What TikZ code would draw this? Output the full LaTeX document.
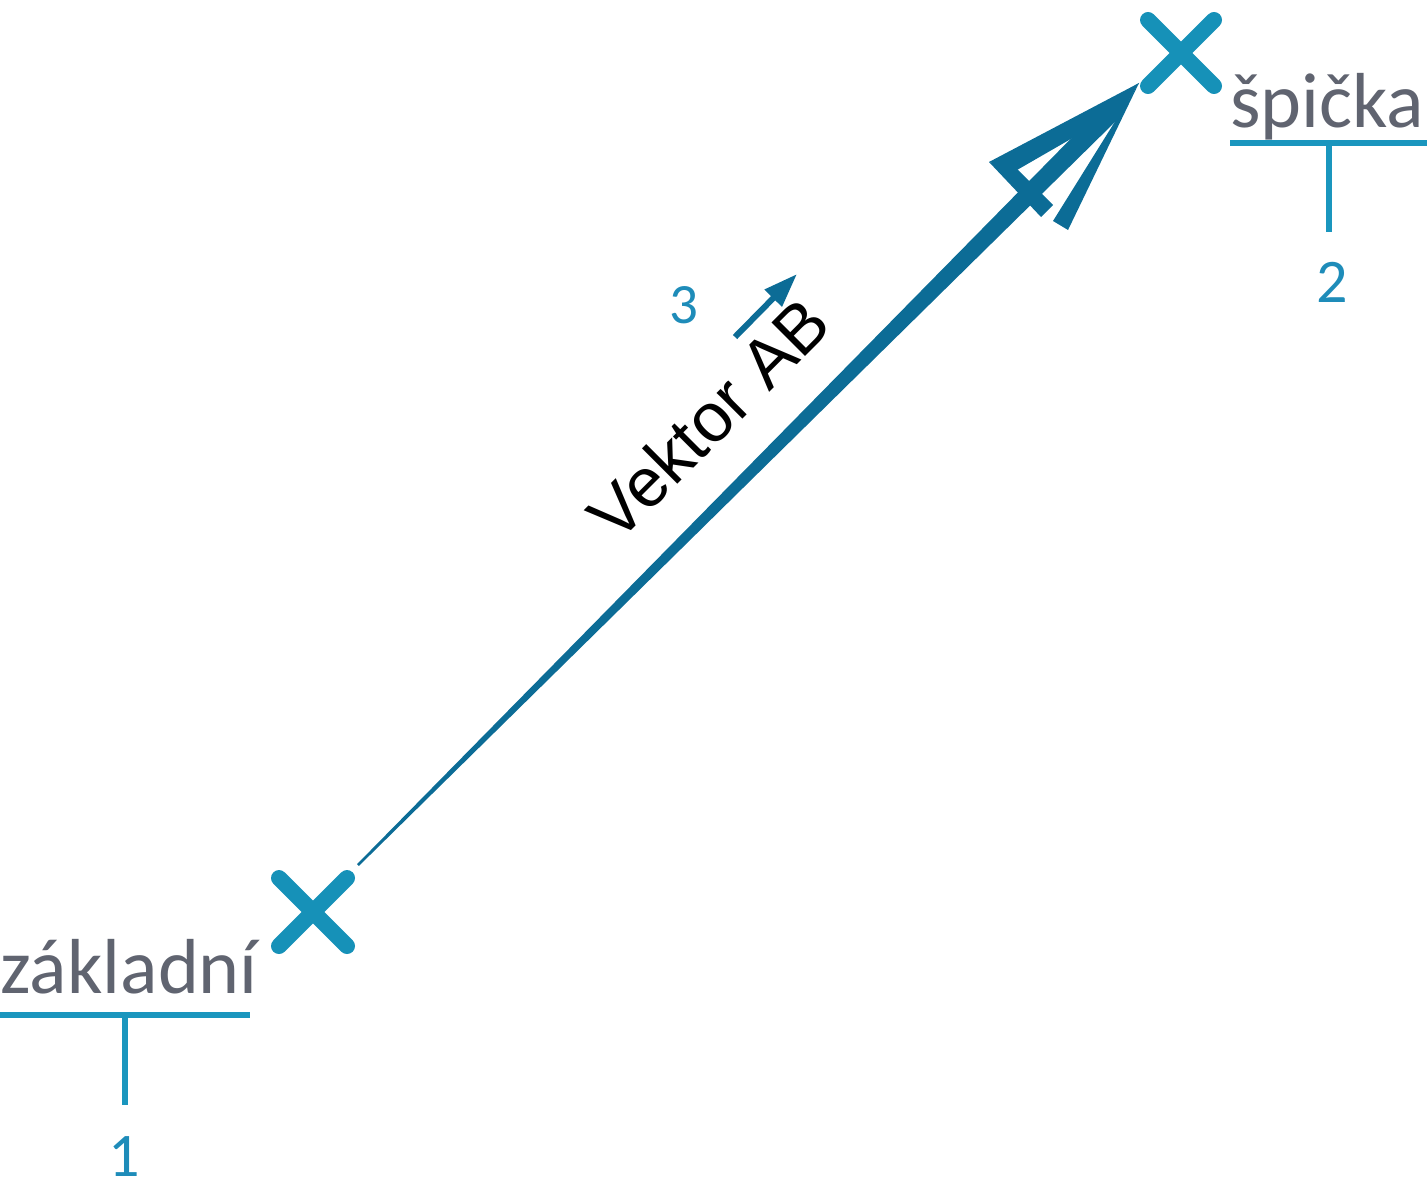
\documentclass[tikz,border=0pt]{standalone}
\usepackage{fontspec}
\setmainfont{Carlito}
\newfontfamily\arialfont{Liberation Sans}
\usetikzlibrary{arrows.meta}
\definecolor{vecblue}{RGB}{12,108,150}
\definecolor{markblue}{RGB}{22,145,184}
\definecolor{lineblue}{RGB}{26,150,190}
\definecolor{numblue}{RGB}{30,140,185}
\definecolor{labelgray}{RGB}{96,100,112}
\begin{document}
\begin{tikzpicture}[x=0.5pt,y=-0.5pt,
  xmark/.style={line width=8pt, line cap=round, draw=markblue},
  ticker/.style={line width=3pt, draw=lineblue},
  labeltext/.style={inner sep=0pt, text=labelgray, font=\fontsize{39}{46}\selectfont},
  numtext/.style={inner sep=0pt, text=numblue, font=\fontsize{31}{37}\selectfont},
  vecfill/.style={fill=vecblue, draw=none}]
\useasboundingbox (0,0) rectangle (1427,1177);
% points
\coordinate (P1) at (313,912);
\coordinate (P2) at (1181,53);
\coordinate (A) at (358,865);
\coordinate (T) at (1139,83);
% X marks
\draw[xmark] ([shift={(-34,-34)}]P1) -- ([shift={(34,34)}]P1);
\draw[xmark] ([shift={(34,-34)}]P1) -- ([shift={(-34,34)}]P1);
\draw[xmark] ([shift={(-33,-33)}]P2) -- ([shift={(33,33)}]P2);
\draw[xmark] ([shift={(33,-33)}]P2) -- ([shift={(-33,33)}]P2);
% tapered shaft
\fill[vecfill] ([shift={(-0.9,-0.9)}]A) -- (1103,106) -- (T) -- (1117,120) -- ([shift={(0.9,0.9)}]A) -- cycle;
% arrow head: left barb
\fill[vecfill] (T) -- (989,162) -- (1017,170) -- (1102,121) -- cycle;
% back edge
\fill[vecfill] (989,162) -- (1041,217) -- (1053,205) -- (1015,167) -- cycle;
% right barb
\fill[vecfill] (T) -- (1053,221) -- (1068,230) -- cycle;
% vector label
\node[inner sep=0pt, rotate=45, anchor=base, font=\arialfont\fontsize{34.5}{40}\selectfont] (vlab) at (726,436) {Vektor AB};
% small arrow and 3
\coordinate (s1) at (735,337);
\coordinate (s2) at (797,274);
\draw[draw=vecblue, line width=3pt, -{Triangle[length=17pt,width=11.5pt]}] (s1) -- (s2);
\node[numtext, anchor=base, font=\fontsize{28.5}{34}\selectfont] (n3) at (683.5,323) {3};
% labels
\node[labeltext, anchor=base west] (lab1) at (0,993) {základní};
\node[labeltext, anchor=base west] (lab2) at (1230,127) {špička};
% underline ticks
\coordinate (u1a) at (0,1015);
\coordinate (u1b) at (250,1015);
\coordinate (u1c) at (125,1015);
\coordinate (u1d) at (125,1105);
\draw[ticker] (u1a) -- (u1b);
\draw[ticker] (u1c) -- (u1d);
\coordinate (u2a) at (1230,143);
\coordinate (u2b) at (1427,143);
\coordinate (u2c) at (1329,143);
\coordinate (u2d) at (1329,232);
\draw[ticker] (u2a) -- (u2b);
\draw[ticker] (u2c) -- (u2d);
% numbers
\node[numtext, anchor=base] (n1) at (124,1176) {1};
\node[numtext, anchor=base] (n2) at (1332.5,302) {2};
\end{tikzpicture}
\end{document}
